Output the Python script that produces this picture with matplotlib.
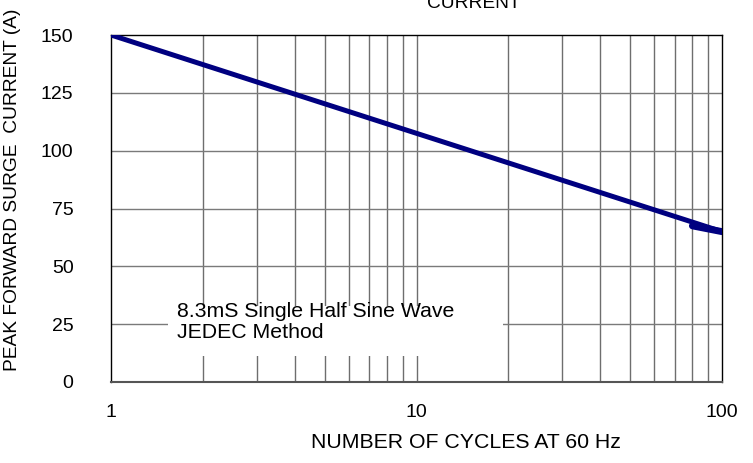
import numpy as np
import matplotlib
matplotlib.use('Agg')
import matplotlib.pyplot as plt
from matplotlib.patches import Rectangle

plt.rcParams['font.family'] = ['Liberation Sans', 'DejaVu Sans']

# surge current curve (cycles, amps)
cycles = [1, 100]
current = [150, 65]
# small overdrawn tail at the end of the curve
tail_cycles = [80, 100]
tail_current = [67.5, 65]

x_ticks = [1, 10, 100]
y_ticks = [0, 25, 50, 75, 100, 125, 150]

fig = plt.figure(figsize=(7.53, 4.63), dpi=100)
ax = fig.add_axes([111 / 753, 1 - 382 / 463, 611 / 753, 347 / 463])

ax.set_xscale('log')
ax.set_xlim(1, 100)
ax.set_ylim(0, 150)

minor = [v * d for d in (1, 10) for v in range(2, 10)]
for m in minor:
    ax.axvline(m, color='#6e6e6e', lw=1.0, zorder=1)
ax.axvline(10, color='#6e6e6e', lw=1.0, zorder=1)
for yv in y_ticks[1:-1]:
    ax.axhline(yv, color='#7a7a7a', lw=1.0, zorder=1)

ax.add_patch(Rectangle((1.537, 11.3), 19.2 - 1.537, 32.9 - 11.3,
                       facecolor='white', edgecolor='none', zorder=2))
ax.text(1.64, 34.5, '8.3mS Single Half Sine Wave\nJEDEC Method',
        fontsize=15.3, va='top', ha='left', zorder=3, linespacing=1.1)

ax.plot(cycles, current, color='#000080', lw=3.6, solid_capstyle='round', zorder=4)
ax.plot(tail_cycles, tail_current, color='#000080', lw=5, solid_capstyle='round', zorder=4)

ax.set_xticks(x_ticks)
ax.set_xticklabels([str(v) for v in x_ticks])
ax.set_xticks([], minor=True)
ax.set_yticks(y_ticks)
ax.tick_params(axis='both', length=0, labelsize=14)
ax.tick_params(axis='x', pad=16)
ax.tick_params(axis='y', pad=27)

for s in ax.spines.values():
    s.set_linewidth(1.0)
ax.spines['bottom'].set_color('#555555')
ax.spines['bottom'].set_linewidth(1.5)

fig.text(466 / 753, 1 - 442 / 463, 'NUMBER OF CYCLES AT 60 Hz', fontsize=15.3,
         ha='center', va='center')
fig.text(13 / 753, 1 - 190 / 463, 'PEAK FORWARD SURGE  CURRENT (A)', fontsize=13.8,
         ha='center', va='center', rotation=90)
fig.text(474 / 753, 1 - 3 / 463, 'CURRENT', fontsize=13.8, ha='center', va='center')

fig.savefig('out.png', dpi=100)
